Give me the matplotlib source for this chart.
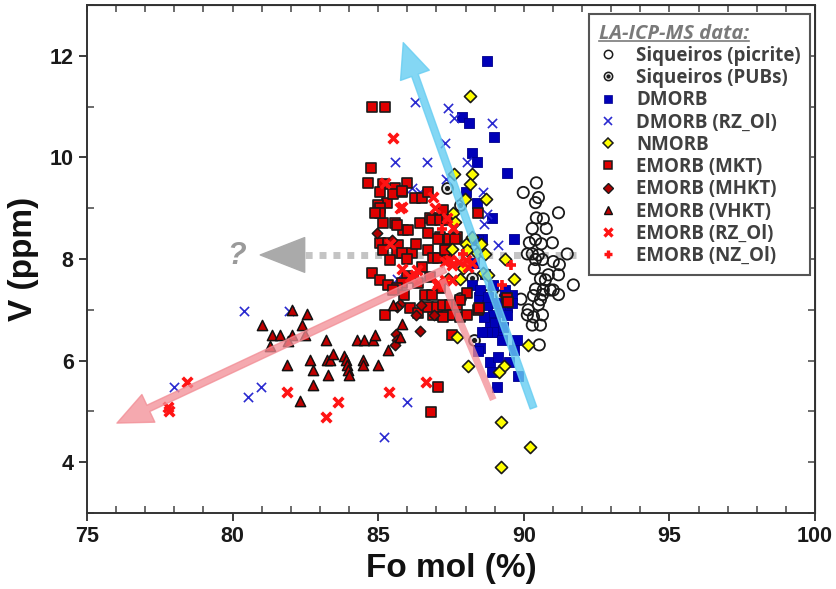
import matplotlib
matplotlib.use('Agg')
import matplotlib.pyplot as plt
from matplotlib.lines import Line2D
from matplotlib.legend_handler import HandlerTuple

plt.rcParams['font.family'] = ['Liberation Sans', 'DejaVu Sans']

# ---- data (Fo mol %, V ppm) ----
pic_fo = [90.43, 89.98, 90.50, 90.40, 91.19, 90.43, 90.67, 90.77, 90.29, 90.19, 90.40, 90.60,
          90.98, 90.12, 90.29, 90.50, 91.49, 90.40, 90.64, 91.01, 91.22, 90.36, 90.84, 91.19,
          90.57, 90.74, 91.70, 90.40, 90.67, 90.91, 91.01, 90.33, 90.64, 91.19, 90.50, 90.57,
          90.15, 90.12, 90.33, 90.64, 90.29, 90.57, 90.53, 89.90]
pic_v = [9.50, 9.31, 9.21, 9.11, 8.91, 8.81, 8.79, 8.60, 8.60, 8.32, 8.38, 8.30,
         8.32, 8.10, 8.10, 8.08, 8.10, 7.99, 7.99, 7.95, 7.89, 7.81, 7.69, 7.69,
         7.61, 7.59, 7.49, 7.41, 7.39, 7.39, 7.39, 7.28, 7.30, 7.30, 7.10, 7.20,
         7.00, 6.90, 6.86, 6.90, 6.70, 6.70, 6.31, 7.21]

pub_fo = [87.37, 87.82, 88.23, 87.82, 88.75, 89.23, 88.30]
pub_v = [9.40, 9.07, 7.62, 7.24, 7.30, 7.30, 6.40]

dm_fo = [88.75, 87.89, 88.13, 88.99, 88.23, 88.40, 89.43, 88.02, 88.40, 88.92, 88.57, 89.67,
         88.95, 89.60, 88.47, 88.75, 89.43, 89.60, 88.95, 89.19, 89.43, 88.85, 89.02, 89.12,
         88.95, 88.75, 88.57, 89.26, 89.78, 88.50, 89.67, 88.44, 88.85, 89.12, 89.50, 88.92,
         89.81, 89.09, 89.36, 88.23, 88.50, 88.78, 89.09, 88.64, 89.30, 88.30, 88.65, 88.44]
dm_v = [11.89, 10.80, 10.68, 10.41, 10.09, 9.90, 9.70, 9.31, 9.11, 8.81, 8.40, 8.40,
        7.49, 7.30, 7.26, 7.10, 7.06, 7.14, 6.90, 6.96, 6.90, 6.76, 6.74, 6.57,
        6.57, 6.57, 6.57, 6.41, 6.41, 6.25, 6.21, 6.19, 5.98, 6.07, 5.98, 5.78,
        5.70, 5.48, 7.39, 7.49, 7.39, 7.26, 7.14, 6.86, 6.66, 7.93, 7.70, 8.38]

dmrz_fo = [80.40, 81.94, 77.99, 80.98, 80.53, 86.00, 85.21, 86.27, 87.41, 87.61, 88.92, 87.30,
           85.58, 86.68, 88.06, 87.34, 86.17, 86.44, 88.61, 88.75, 88.64, 89.12, 85.65]
dmrz_v = [6.98, 6.98, 5.48, 5.48, 5.29, 5.19, 4.50, 11.10, 10.98, 10.78, 10.68, 10.29,
          9.90, 9.90, 9.90, 9.58, 9.40, 9.31, 9.31, 8.89, 8.69, 8.28, 7.60]

nm_fo = [88.16, 87.61, 88.23, 88.16, 87.99, 88.71, 87.58, 87.65, 88.23, 87.54, 88.02, 88.54,
         88.06, 88.40, 89.36, 87.92, 89.67, 87.82, 87.71, 90.13, 88.09, 89.33, 89.16, 89.23,
         90.22, 89.23, 87.40, 88.68, 88.61, 88.78]
nm_v = [11.20, 9.68, 9.68, 9.48, 9.19, 9.19, 8.91, 8.73, 8.44, 8.20, 8.30, 8.30,
        8.18, 8.12, 8.01, 7.83, 7.60, 7.60, 6.47, 6.30, 5.90, 5.90, 5.78, 4.79,
        4.30, 3.91, 7.60, 8.10, 7.73, 7.69]

mkt_fo = [84.79, 85.24, 84.76, 84.66, 85.17, 86.00, 85.07, 85.58, 85.82, 85.31, 85.00, 86.27,
          86.51, 86.72, 85.17, 85.58, 85.86, 86.03, 86.44, 86.79, 87.03, 87.23, 86.72, 87.13,
          87.71, 88.44, 85.07, 85.65, 86.86, 87.13, 87.37, 87.06, 87.41, 85.07, 85.34, 85.69,
          85.17, 85.65, 85.82, 86.17, 85.41, 86.72, 86.89, 87.06, 87.37, 84.79, 85.07, 85.34,
          86.00, 86.20, 86.37, 85.82, 85.65, 85.51, 86.79, 87.13, 86.62, 86.86, 86.10, 86.37,
          85.24, 86.89, 87.13, 87.37, 86.72, 87.03, 85.51, 85.82, 85.07, 87.23, 87.47, 87.71,
          87.23, 87.58, 87.82, 88.06, 88.44, 87.54, 89.43, 87.06, 86.82, 87.44, 87.65, 87.30,
          88.06, 87.82, 88.47, 89.47, 84.90, 86.30, 86.00, 85.90, 86.50]
mkt_v = [11.00, 11.00, 9.80, 9.50, 9.48, 9.50, 9.31, 9.40, 9.31, 9.11, 9.07, 9.21,
         9.21, 9.31, 8.71, 8.71, 8.58, 8.58, 8.71, 8.81, 8.81, 8.97, 8.52, 8.44,
         8.44, 8.91, 9.01, 8.67, 8.77, 8.77, 8.77, 8.40, 8.40, 8.32, 8.32, 8.28,
         8.18, 8.12, 8.12, 8.12, 7.99, 8.18, 8.02, 8.02, 8.02, 7.73, 7.59, 7.49,
         7.67, 7.63, 7.53, 7.53, 7.43, 7.39, 7.65, 7.43, 7.30, 7.30, 7.04, 6.94,
         6.90, 6.90, 6.90, 6.90, 7.06, 7.06, 9.27, 9.33, 8.91, 7.10, 7.10, 7.10,
         6.86, 6.90, 6.86, 6.90, 7.00, 6.51, 7.24, 5.48, 4.99, 8.40, 8.40, 8.18,
         7.33, 7.20, 7.04, 7.16, 8.90, 8.30, 8.00, 7.30, 7.85]

mhkt_fo = [84.96, 85.48, 86.48, 86.30, 86.92, 86.44, 85.62, 85.65, 85.58, 85.76, 85.65]
mhkt_v = [8.52, 8.38, 7.10, 6.90, 6.90, 6.59, 6.53, 6.41, 6.31, 7.12, 7.05]

vhkt_fo = [82.04, 82.56, 81.01, 82.39, 81.36, 81.63, 82.04, 82.49, 81.29, 81.91, 83.21, 84.28,
           84.52, 84.83, 81.87, 82.66, 83.25, 83.35, 83.83, 83.90, 83.93, 83.97, 84.00, 84.48,
           84.48, 85.00, 82.77, 83.45, 83.28, 82.77, 82.32, 84.90, 85.34, 85.76, 85.51, 85.82]
vhkt_v = [7.00, 6.92, 6.70, 6.70, 6.51, 6.51, 6.51, 6.51, 6.29, 6.39, 6.41, 6.41,
          6.41, 6.41, 5.92, 6.01, 6.01, 6.01, 6.09, 6.01, 5.92, 5.82, 5.72, 6.01,
          5.92, 5.92, 5.82, 6.13, 5.72, 5.52, 5.21, 6.51, 6.21, 6.47, 7.10, 6.72]

erz_fo = [78.44, 77.78, 77.82, 81.87, 83.62, 83.21, 86.65, 85.38, 85.51, 85.24, 85.82, 86.89,
          86.96, 87.37, 85.76, 87.58, 85.41, 85.82, 86.34, 87.30, 87.47, 87.54, 87.78, 88.02,
          87.06, 87.30, 87.54, 88.23, 88.09, 86.10, 86.27, 87.03]
erz_v = [5.58, 5.09, 5.01, 5.38, 5.19, 4.89, 5.58, 5.38, 10.39, 9.50, 9.03, 9.23,
         9.01, 8.81, 9.01, 8.62, 8.30, 7.81, 7.79, 7.95, 7.99, 7.89, 7.95, 7.99,
         7.53, 7.59, 7.59, 7.93, 7.85, 7.65, 7.69, 7.49]

enz_fo = [89.57, 89.26, 87.90, 87.20]
enz_v = [7.89, 7.49, 8.10, 8.60]

# trend arrows (start, end) in data units
blue_arrow = [(90.33, 5.07), (85.86, 12.26)]
pink_arrow = [(87.30, 7.80), (76.03, 4.77)]
pink_line = [(87.20, 7.60), (88.95, 5.23)]
grey_line = [(91.80, 8.08), (82.10, 8.08)]
grey_tip = 80.95

fig = plt.figure(figsize=(8.36, 5.89), dpi=100)
ax = fig.add_axes([0.104, 0.129, 0.871, 0.8625])

# grey dotted "?" trend, under the markers
ax.plot([grey_line[0][0], grey_line[1][0]], [grey_line[0][1], grey_line[1][1]],
        color='#c4c4c4', lw=5, dashes=(1.0, 1.0), solid_capstyle='butt', zorder=1)
ax.annotate('', xy=(grey_tip, grey_line[1][1]), xytext=(grey_line[1][0] + 0.1, grey_line[1][1]),
            arrowprops=dict(arrowstyle='simple,head_length=1.6,head_width=1.25,tail_width=0.01',
                            color='#aaaaaa', shrinkA=0, shrinkB=0, mutation_scale=20), zorder=1)
ax.text(80.15, 8.05, '?', fontsize=22, fontweight='bold', style='italic', color='#9a9a9a',
        ha='center', va='center', zorder=1)

ax.scatter(pic_fo, pic_v, s=66, marker='o', facecolor='none', edgecolor='#1a1a1a', lw=1.3, zorder=3)
ax.scatter(pub_fo, pub_v, s=62, marker='o', facecolor='#e8e8e8', edgecolor='#1a1a1a', lw=1.3, zorder=3)
ax.scatter(pub_fo, pub_v, s=7, marker='o', color='#1a1a1a', zorder=3)
ax.scatter(dm_fo, dm_v, s=44, marker='s', facecolor='#0000b8', edgecolor='#00008a', lw=0.6, zorder=3)
ax.scatter(dmrz_fo, dmrz_v, s=44, marker='x', color='#2a2ad0', lw=1.2, zorder=3)
ax.scatter(mkt_fo, mkt_v, s=48, marker='s', facecolor='#e00000', edgecolor='#1a1a1a', lw=1.2, zorder=3)
ax.scatter(nm_fo, nm_v, s=38, marker='D', facecolor='#ffff00', edgecolor='#1a1a1a', lw=1.2, zorder=3)
ax.scatter(mhkt_fo, mhkt_v, s=28, marker='D', facecolor='#b00000', edgecolor='#1a1a1a', lw=1.1, zorder=3)
ax.scatter(vhkt_fo, vhkt_v, s=54, marker='^', facecolor='#c00000', edgecolor='#111111', lw=1.1, zorder=3)
ax.scatter(erz_fo, erz_v, s=48, marker='x', color='#ff1414', lw=2.6, zorder=3)
ax.scatter(enz_fo, enz_v, s=48, marker='+', color='#ff1414', lw=2.6, zorder=3)

# translucent trend arrows on top
ax.annotate('', xy=blue_arrow[1], xytext=blue_arrow[0],
            arrowprops=dict(arrowstyle='simple,head_length=1.25,head_width=1.1,tail_width=0.25',
                            color='#66cdf2', alpha=0.8, shrinkA=0, shrinkB=0, mutation_scale=20), zorder=5)
ax.annotate('', xy=pink_arrow[1], xytext=pink_arrow[0],
            arrowprops=dict(arrowstyle='simple,head_length=1.25,head_width=1.1,tail_width=0.25',
                            color='#f28c94', alpha=0.75, shrinkA=0, shrinkB=0, mutation_scale=20), zorder=5)
ax.plot([pink_line[0][0], pink_line[1][0]], [pink_line[0][1], pink_line[1][1]],
        color='#f28c94', alpha=0.75, lw=5, solid_capstyle='butt', zorder=5)

ax.set_xlim(75, 100)
ax.set_ylim(3, 13)
ax.set_xticks(range(75, 101, 5))
ax.set_xticks(range(75, 101), minor=True)
ax.set_yticks([4, 6, 8, 10, 12])
ax.set_yticks(range(3, 14), minor=True)
ax.tick_params(which='major', direction='out', length=6, width=1.2, labelsize=15.5, colors='#1a1a1a')
ax.tick_params(which='minor', direction='in', length=5, width=1.1, colors='#444444')
for lab in ax.get_xticklabels() + ax.get_yticklabels():
    lab.set_fontweight('bold')
for sp in ax.spines.values():
    sp.set_linewidth(1.4)
    sp.set_color('#333333')

secx = ax.secondary_xaxis('top')
secx.set_xticks(range(75, 101))
secx.tick_params(direction='in', length=5, width=1.1, labeltop=False, colors='#444444')
secy = ax.secondary_yaxis('right')
secy.set_yticks(range(3, 14))
secy.tick_params(direction='in', length=5, width=1.1, labelright=False, colors='#444444')

ax.set_xlabel('Fo mol (%)', fontsize=24, fontweight='bold', labelpad=4, color='#111111')
ax.set_ylabel('V (ppm)', fontsize=24, fontweight='bold', labelpad=8, color='#111111')

# legend
handles = [
    Line2D([], [], ls='none', marker='o', ms=6, mfc='white', mec='#1a1a1a', mew=1.1),
    (Line2D([], [], ls='none', marker='o', ms=6, mfc='#e8e8e8', mec='#1a1a1a', mew=1.1),
     Line2D([], [], ls='none', marker='o', ms=2, mfc='#1a1a1a', mec='#1a1a1a')),
    Line2D([], [], ls='none', marker='s', ms=5.5, mfc='#0000b8', mec='#00008a', mew=0.5),
    Line2D([], [], ls='none', marker='x', ms=6, color='#2a2ad0', mew=1.2),
    Line2D([], [], ls='none', marker='D', ms=5.5, mfc='#ffff00', mec='#1a1a1a', mew=1.1),
    Line2D([], [], ls='none', marker='s', ms=5.5, mfc='#e00000', mec='#1a1a1a', mew=1.1),
    Line2D([], [], ls='none', marker='D', ms=5, mfc='#b00000', mec='#1a1a1a', mew=1.0),
    Line2D([], [], ls='none', marker='^', ms=6, mfc='#c00000', mec='#111111', mew=1.0),
    Line2D([], [], ls='none', marker='x', ms=6, color='#ff1414', mew=2.4),
    Line2D([], [], ls='none', marker='+', ms=6, color='#ff1414', mew=2.4),
]
labels = ['Siqueiros (picrite)', 'Siqueiros (PUBs)', 'DMORB', 'DMORB (RZ_Ol)', 'NMORB',
          'EMORB (MKT)', 'EMORB (MHKT)', 'EMORB (VHKT)', 'EMORB (RZ_Ol)', 'EMORB (NZ_Ol)']
leg = ax.legend(handles, labels, loc='upper right', bbox_to_anchor=(0.993, 0.982), borderaxespad=0,
                handler_map={tuple: HandlerTuple(ndivide=1, pad=0)},
                prop={'family': ['Open Sans', 'DejaVu Sans'], 'weight': 'bold', 'size': 13.5},
                title='LA-ICP-MS data:',
                title_fontproperties={'family': ['Open Sans', 'DejaVu Sans'], 'weight': 'bold',
                                      'style': 'italic', 'size': 14.5},
                labelspacing=0.12, handlelength=1.0, handletextpad=1.0, borderpad=0.5,
                fancybox=False, framealpha=1, edgecolor='#555555')
leg.get_frame().set_linewidth(1.5)
leg.get_title().set_color('#7a7a7a')
leg._legend_box.align = 'left'
for t in leg.get_texts():
    t.set_color('#404040')
leg.set_zorder(10)

# underline the legend title
fig.canvas.draw()
bb = leg.get_title().get_window_extent(fig.canvas.get_renderer())
inv = fig.transFigure.inverted()
(x0, y0), (x1, _) = inv.transform([(bb.x0, bb.y0 + 3), (bb.x1, bb.y0 + 3)])
fig.add_artist(Line2D([x0, x1], [y0, y0], color='#7a7a7a', lw=1.2, zorder=11))

fig.savefig('out.png', dpi=100)
